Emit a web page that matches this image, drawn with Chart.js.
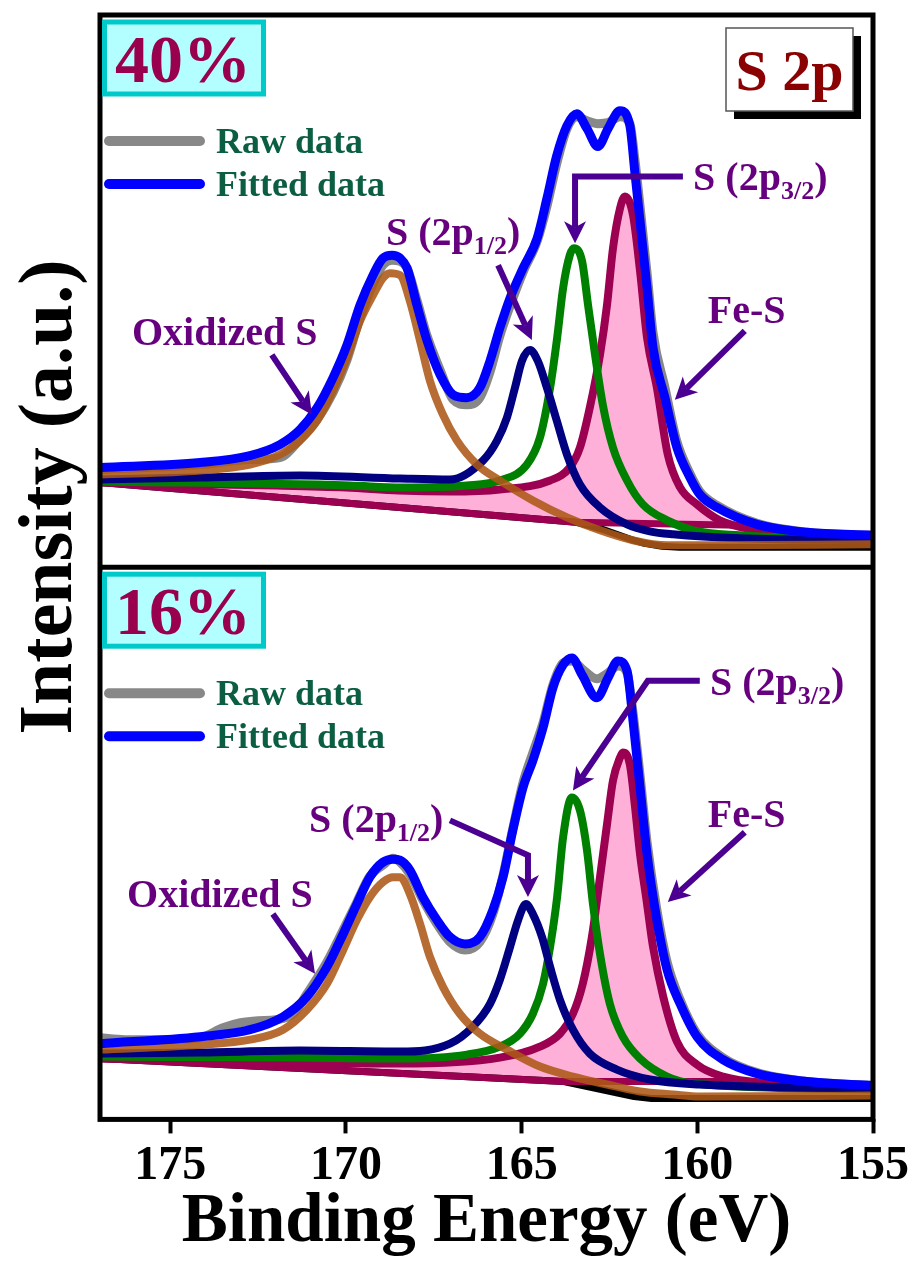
<!DOCTYPE html>
<html>
<head>
<meta charset="utf-8">
<script src="https://cdn.jsdelivr.net/npm/chart.js@4.4.1/dist/chart.umd.min.js"></script>
<style>
html,body{margin:0;padding:0;background:#fff;}
#wrap{width:916px;height:1261px;position:relative;}
canvas{display:block;}
</style>
</head>
<body>
<div id="wrap"><canvas id="c" width="916" height="1261"></canvas></div>
<script>
// ---------- text ----------
const xTicks = [175, 170, 165, 160, 155];
const panelLabels = ['40%', '16%'];
const legendNames = ['Raw data', 'Fitted data'];
const coreLevel = 'S 2p';
const xTitle = 'Binding Energy (eV)';
const yTitle = 'Intensity (a.u.)';

// ---------- 40% panel (binding energy in eV, intensity in a.u.) ----------
const eFit40 = [177, 174.15, 172.73, 171.88, 171.31, 170.82, 170.37, 169.97, 169.6, 169.23, 168.95, 168.69, 168.46, 168.26, 167.98, 167.69, 167.32, 166.95, 166.56, 166.19, 165.9, 165.62, 165.33, 164.96, 164.56, 164.28, 164.0, 163.71, 163.43, 163.14, 162.83, 162.54, 162.2, 161.92, 161.78, 161.63, 161.43, 161.26, 160.92, 160.58, 160.21, 159.93, 159.44, 158.3, 156.88, 155];
const fit40 = [100, 105, 112, 123, 138, 160, 190, 223, 263, 293, 310, 313, 310, 300, 263, 227, 193, 173, 170, 180, 207, 240, 270, 300, 330, 370, 413, 443, 455, 440, 422, 440, 458, 443, 397, 347, 280, 220, 170, 120, 90, 73, 60, 43, 35, 32];
const eRaw40 = eFit40;
const raw40 = [98, 103, 108, 110, 128, 148, 175, 208, 250, 284, 303, 308, 307, 300, 268, 232, 198, 168, 163, 170, 196, 232, 262, 296, 327, 362, 405, 440, 452, 448, 445, 446, 452, 445, 410, 362, 295, 235, 180, 126, 94, 76, 62, 44, 35, 32];
const eOx40 = [177, 174.15, 172.73, 171.88, 171.31, 170.82, 170.37, 169.97, 169.6, 169.23, 168.95, 168.75, 168.46, 168.18, 167.89, 167.61, 167.24, 166.84, 166.27, 165.62, 164.68, 163.71, 162.77, 161.83, 160.86, 159.93, 155];
const ox40 = [93, 97, 103, 113, 127, 147, 177, 210, 247, 273, 290, 295, 293, 267, 227, 187, 153, 127, 103, 87, 67, 50, 37, 27, 22, 22, 23];
const eP12_40 = [177, 174.15, 171.31, 168.46, 167.04, 166.1, 165.7, 165.42, 165.19, 164.99, 164.76, 164.54, 164.28, 164.0, 163.71, 163.34, 162.77, 162.0, 161.35, 160.69, 158.79, 155];
const p12_40 = [88, 90, 92, 89, 88, 107, 127, 150, 180, 207, 218, 207, 180, 147, 113, 83, 60, 43, 36, 33, 29, 27];
const eP32_40 = [177, 169.89, 168.46, 166.56, 165.62, 164.85, 164.48, 164.19, 163.99, 163.82, 163.63, 163.51, 163.28, 163.11, 162.91, 162.69, 162.4, 162.0, 161.55, 160.86, 160.12, 158.79, 155];
const p32_40 = [86, 82, 80, 82, 87, 103, 130, 180, 230, 280, 313, 320, 307, 263, 213, 163, 120, 87, 63, 47, 37, 32, 27];
const eFeS40 = [177, 172, 170, 168.5, 167.04, 165.62, 164.19, 163.63, 163.34, 163.06, 162.77, 162.57, 162.4, 162.2, 162.06, 161.83, 161.63, 161.43, 161.15, 160.84, 160.49, 160.01, 159.36, 158.3, 157.08, 155];
const feS40 = [85, 82, 80, 77, 76, 78, 87, 100, 120, 160, 213, 263, 320, 360, 372, 353, 297, 230, 180, 113, 80, 63, 47, 37, 32, 29];
const eFeBase40 = [177, 163.45, 158.8];
const feBase40 = [85, 45, 42];
const eBg40 = [177, 163.45, 163.1, 162.7, 162.3, 161.9, 161.5, 161.0, 160.5, 155];
const bg40 = [85, 45, 42, 38, 33, 28, 24, 21, 20, 20];

// ---------- 16% panel ----------
const eFit16 = [177, 174.15, 172.73, 171.79, 171.11, 170.54, 170.08, 169.69, 169.32, 168.95, 168.66, 168.46, 168.18, 167.81, 167.41, 167.04, 166.61, 166.19, 165.82, 165.53, 165.25, 164.96, 164.68, 164.39, 164.11, 163.82, 163.57, 163.28, 162.86, 162.54, 162.26, 162.0, 161.83, 161.63, 161.43, 161.15, 160.86, 160.49, 160.01, 159.27, 158.3, 156.88, 155];
const fit16 = [76, 83, 90, 103, 123, 153, 186, 216, 243, 258, 261, 260, 250, 223, 200, 183, 176, 183, 210, 243, 290, 333, 360, 393, 433, 456, 463, 446, 423, 443, 460, 450, 400, 333, 266, 200, 150, 116, 83, 60, 46, 38, 34];
const eRaw16 = [177, 176.3, 175.3, 174.15, 173.5, 173.0, 172.5, 172.0, 171.5, 171.11, 170.54, 170.08, 169.69, 169.32, 168.95, 168.66, 168.46, 168.18, 167.81, 167.41, 167.04, 166.61, 166.19, 165.82, 165.53, 165.25, 164.96, 164.68, 164.39, 164.11, 163.82, 163.57, 163.28, 162.86, 162.54, 162.26, 162.0, 161.83, 161.63, 161.43, 161.15, 160.86, 160.49, 160.01, 159.27, 158.3, 156.88, 155];
const raw16 = [82, 80, 80, 82, 92, 97, 99, 100, 106, 126, 158, 190, 218, 244, 255, 262, 258, 246, 220, 196, 178, 170, 178, 206, 245, 292, 338, 368, 398, 436, 458, 460, 452, 442, 448, 455, 448, 408, 345, 278, 210, 158, 120, 86, 62, 47, 38, 34];
const eOx16 = [177, 174.15, 172.73, 171.79, 171.11, 170.54, 170.08, 169.69, 169.32, 168.95, 168.66, 168.46, 168.18, 167.89, 167.61, 167.24, 166.76, 166.19, 165.42, 164.48, 163.54, 162.57, 161.63, 160.69, 159.93, 155];
const ox16 = [70, 75, 80, 90, 110, 136, 170, 200, 223, 238, 243, 243, 226, 196, 163, 133, 106, 86, 70, 53, 43, 35, 28, 25, 23, 24];
const eP12_16 = [177, 174.15, 171.31, 168.46, 167.04, 166.39, 165.9, 165.62, 165.33, 165.1, 164.88, 164.68, 164.42, 164.19, 163.91, 163.54, 163.06, 162.29, 161.35, 159.93, 155];
const p12_16 = [66, 67, 69, 68, 76, 93, 116, 140, 173, 200, 216, 206, 183, 153, 120, 90, 66, 50, 40, 35, 31];
const eP32_16 = [177, 171.31, 168.46, 166.56, 165.62, 165.05, 164.68, 164.39, 164.19, 163.99, 163.82, 163.57, 163.34, 163.14, 162.97, 162.77, 162.49, 162.12, 161.63, 160.86, 160.12, 155];
const p32_16 = [63, 62, 61, 65, 73, 86, 106, 136, 173, 223, 283, 323, 310, 270, 216, 166, 116, 83, 61, 43, 36, 30];
const eFeS16 = [177, 172.73, 168.46, 165.62, 164.48, 163.91, 163.54, 163.26, 163.0, 162.77, 162.57, 162.4, 162.2, 162.12, 161.92, 161.78, 161.63, 161.43, 161.26, 160.97, 160.58, 160.01, 159.27, 157.85, 155];
const feS16 = [61, 58, 56, 62, 73, 86, 106, 136, 183, 243, 296, 340, 363, 368, 356, 316, 266, 216, 173, 123, 78, 55, 43, 36, 31];
const eFeBase16 = [177, 163.8, 158.6];
const feBase16 = [61, 38, 38];
const eBg16 = [177, 163.8, 163.4, 163.0, 162.6, 162.2, 161.8, 161.3, 160.8, 155];
const bg16 = [61, 38, 35, 32, 29, 26, 23, 21, 21, 21];

// ---------- annotations (positions in data coordinates: [eV, intensity]) ----------
const notes40 = [
  {text: 'Oxidized S', at: [176.09, 223], arrow: [[172.11, 213], [170.97, 153]]},
  {text: 'S (2p', sub: '1/2', at: [168.86, 323], arrow: [[165.67, 303], [164.71, 228]]},
  {text: 'S (2p', sub: '3/2', at: [160.12, 378], arrow: [[160.41, 392], [163.48, 392], [163.48, 325]]},
  {text: 'Fe-S', at: [159.70, 245], arrow: [[158.65, 237], [160.64, 168]]}
];
const notes16 = [
  {text: 'Oxidized S', at: [176.23, 213], arrow: [[172.08, 206], [170.88, 146]]},
  {text: 'S (2p', sub: '1/2', at: [171.05, 288], arrow: [[167.04, 300], [164.82, 265], [164.82, 223]]},
  {text: 'S (2p', sub: '3/2', at: [159.64, 426], arrow: [[159.93, 440], [161.41, 440], [163.54, 330]]},
  {text: 'Fe-S', at: [159.70, 293], arrow: [[158.65, 288], [160.84, 218]]}
];

// ---------- build ----------
const SERIF = '"Liberation Serif", "Times New Roman", serif';
const C = {
  fit: '#0000FF', raw: '#888888', ox: 'rgba(172,88,22,0.88)', p12: '#000080', p32: '#008000',
  fes: '#9C0050', pink: '#FFB0D8', bg: '#000000', note: '#66007F', arrow: '#4B0091'
};
const STRAIGHT = {cubicInterpolationMode: 'default', tension: 0};
function pts(e, v) { return e.map((x, i) => ({x: x, y: v[i]})); }
function ds(label, data, color, width, axis, extra) {
  return Object.assign({label, data, borderColor: color, borderWidth: width, yAxisID: axis,
    pointRadius: 0, clip: 0, fill: false}, extra || {});
}
function panelSets(axis, d) {
  return [
    ds('Fitted data', pts(d.eFit, d.fit), C.fit, 9, axis),
    ds('Oxidized S', pts(d.eOx, d.ox), C.ox, 8, axis),
    ds('S 2p1/2', pts(d.eP12, d.p12), C.p12, 8, axis),
    ds('S 2p3/2', pts(d.eP32, d.p32), C.p32, 8, axis),
    ds('Fe-S', pts(d.eFeS, d.feS), C.fes, 8, axis, {fill: {target: '+1', above: C.pink, below: 'rgba(0,0,0,0)'}}),
    ds('Fe-S base', pts(d.eFeBase, d.feBase), C.fes, 7, axis, STRAIGHT),
    ds('Background', pts(d.eBg, d.bg), C.bg, 7, axis, STRAIGHT),
    ds('Raw data', pts(d.eRaw, d.raw), C.raw, 9, axis)
  ];
}
const P40 = {eFit: eFit40, fit: fit40, eRaw: eRaw40, raw: raw40, eOx: eOx40, ox: ox40, eP12: eP12_40, p12: p12_40,
  eP32: eP32_40, p32: p32_40, eFeS: eFeS40, feS: feS40, eFeBase: eFeBase40, feBase: feBase40, eBg: eBg40, bg: bg40};
const P16 = {eFit: eFit16, fit: fit16, eRaw: eRaw16, raw: raw16, eOx: eOx16, ox: ox16, eP12: eP12_16, p12: p12_16,
  eP32: eP32_16, p32: p32_16, eFeS: eFeS16, feS: feS16, eFeBase: eFeBase16, feBase: feBase16, eBg: eBg16, bg: bg16};

function drawNote(ctx, xs, ys, n) {
  const P = n.arrow.map(p => [xs.getPixelForValue(p[0]), ys.getPixelForValue(p[1])]);
  const tx = P[P.length - 1][0], ty = P[P.length - 1][1];
  const px = P[P.length - 2][0], py = P[P.length - 2][1];
  const ang = Math.atan2(ty - py, tx - px), c = Math.cos(ang), s = Math.sin(ang);
  const HL = 22, HW = 11;
  ctx.strokeStyle = C.arrow; ctx.fillStyle = C.arrow; ctx.lineWidth = 6;
  ctx.lineCap = 'butt'; ctx.lineJoin = 'miter';
  ctx.beginPath(); ctx.moveTo(P[0][0], P[0][1]);
  for (let i = 1; i < P.length - 1; i++) ctx.lineTo(P[i][0], P[i][1]);
  ctx.lineTo(tx - (HL - 6) * c, ty - (HL - 6) * s); ctx.stroke();
  ctx.beginPath(); ctx.moveTo(tx, ty);
  ctx.lineTo(tx - HL * c + HW * s, ty - HL * s - HW * c);
  ctx.lineTo(tx - (HL - 6) * c, ty - (HL - 6) * s);
  ctx.lineTo(tx - HL * c - HW * s, ty - HL * s + HW * c);
  ctx.closePath(); ctx.fill();
  ctx.fillStyle = C.note; ctx.textAlign = 'left'; ctx.textBaseline = 'alphabetic';
  const main = 'bold 40px ' + SERIF, small = 'bold 26px ' + SERIF;
  let x = xs.getPixelForValue(n.at[0]); const y = ys.getPixelForValue(n.at[1]);
  ctx.font = main; ctx.fillText(n.text, x, y); x += ctx.measureText(n.text).width;
  if (n.sub) {
    ctx.font = small; ctx.fillText(n.sub, x, y + 9); x += ctx.measureText(n.sub).width;
    ctx.font = main; ctx.fillText(')', x, y);
  }
}
function seg(ctx, x1, y1, x2, y2) { ctx.beginPath(); ctx.moveTo(x1, y1); ctx.lineTo(x2, y2); ctx.stroke(); }

const decor = {
  id: 'decor',
  afterDatasetsDraw(chart) {
    const ctx = chart.ctx, a = chart.chartArea, sc = chart.scales, xs = sc.x;
    ctx.save();
    ctx.strokeStyle = '#000'; ctx.lineWidth = 5; ctx.lineCap = 'butt';
    ctx.strokeRect(a.left, a.top, a.right - a.left, a.bottom - a.top);
    seg(ctx, a.left, sc.yTop.bottom, a.right, sc.yTop.bottom);
    const panels = [{ys: sc.yTop, label: panelLabels[0], notes: notes40}, {ys: sc.yBot, label: panelLabels[1], notes: notes16}];
    panels.forEach(p => {
      const T = p.ys.top, L = a.left;
      ctx.fillStyle = '#B3FFFF'; ctx.fillRect(L + 4.5, T + 7, 159, 72);
      ctx.strokeStyle = '#00C9C9'; ctx.lineWidth = 5; ctx.strokeRect(L + 4.5, T + 7, 159, 72);
      ctx.fillStyle = '#99004D'; ctx.font = 'bold 68px ' + SERIF; ctx.textAlign = 'left'; ctx.textBaseline = 'alphabetic';
      ctx.fillText(p.label, L + 15, T + 67);
      ctx.lineCap = 'round'; ctx.lineWidth = 10;
      ctx.strokeStyle = C.raw; seg(ctx, L + 9, T + 126, L + 100, T + 126);
      ctx.strokeStyle = C.fit; seg(ctx, L + 9, T + 169, L + 100, T + 169);
      ctx.fillStyle = '#0B5E41'; ctx.font = 'bold 36px ' + SERIF;
      ctx.fillText(legendNames[0], L + 116, T + 138);
      ctx.fillText(legendNames[1], L + 116, T + 181);
      p.notes.forEach(n => drawNote(ctx, xs, p.ys, n));
    });
    const R = a.right, T = sc.yTop.top;
    ctx.fillStyle = '#000'; ctx.fillRect(R - 139, T + 21, 127, 83);
    ctx.fillStyle = '#fff'; ctx.fillRect(R - 147, T + 13, 127, 83);
    ctx.strokeStyle = '#555'; ctx.lineWidth = 1.5; ctx.strokeRect(R - 147, T + 13, 127, 83);
    ctx.fillStyle = '#8B0000'; ctx.font = 'bold 58px ' + SERIF; ctx.textAlign = 'center';
    ctx.fillText(coreLevel, R - 83.5, T + 75);
    ctx.restore();
  },
  afterDraw(chart) {
    const ctx = chart.ctx, a = chart.chartArea;
    ctx.save();
    ctx.fillStyle = '#000'; ctx.textAlign = 'center'; ctx.textBaseline = 'alphabetic';
    ctx.font = 'bold 69px ' + SERIF;
    ctx.fillText(xTitle, (a.left + a.right) / 2, a.bottom + 122);
    ctx.translate(71, a.top + 482); ctx.rotate(-Math.PI / 2);
    ctx.font = 'bold 76px ' + SERIF;
    ctx.fillText(yTitle, 0, 0);
    ctx.restore();
  }
};

const hiddenY = {
  type: 'linear', position: 'left', stack: 'panels', stackWeight: 1, min: 0, max: 554,
  ticks: {display: false}, grid: {display: false, drawTicks: false}, border: {display: false}
};

new Chart(document.getElementById('c'), {
  type: 'line',
  data: {datasets: [...panelSets('yTop', P40), ...panelSets('yBot', P16)]},
  options: {
    responsive: false, animation: false, devicePixelRatio: 1,
    layout: {padding: {left: 100, right: 43, top: 15, bottom: 62}},
    elements: {line: {cubicInterpolationMode: 'monotone', borderCapStyle: 'round', borderJoinStyle: 'round'}},
    plugins: {legend: {display: false}, tooltip: {enabled: false}, filler: {drawTime: 'beforeDatasetsDraw'}},
    scales: {
      x: {
        type: 'linear', reverse: true, min: 155, max: 177, offset: false,
        afterBuildTicks: s => { s.ticks = xTicks.map(v => ({value: v})); },
        grid: {drawOnChartArea: false, drawTicks: true, tickLength: 14, tickWidth: 4, tickColor: '#000'},
        border: {display: false},
        ticks: {font: {family: SERIF, size: 48, weight: 'bold'}, color: '#000', padding: 4, maxRotation: 0, autoSkip: false}
      },
      yBot: Object.assign({}, hiddenY),
      yTop: Object.assign({}, hiddenY)
    }
  },
  plugins: [decor]
});
</script>
</body>
</html>
